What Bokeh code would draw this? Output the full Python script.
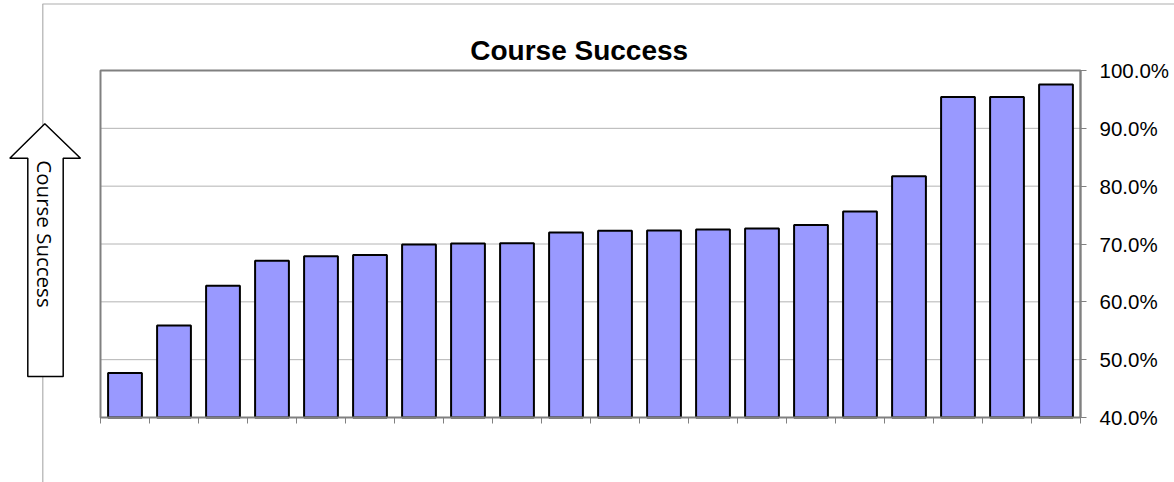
import math
from bokeh.plotting import figure
from bokeh.models import (ColumnDataSource, Range1d, FixedTicker, NumeralTickFormatter,
                          Label, PolyAnnotation, Arrow, BoxAnnotation, CustomJSTickFormatter)
from bokeh.embed import file_html
from bokeh.resources import INLINE

# ---- data ----
values = [0.477, 0.559, 0.628, 0.671, 0.679, 0.681, 0.699, 0.701, 0.7015, 0.720,
          0.723, 0.7235, 0.725, 0.727, 0.733, 0.756, 0.817, 0.954, 0.954, 0.976]
y_ticks = [0.4, 0.5, 0.6, 0.7, 0.8, 0.9, 1.0]
y_min, y_max = 0.4, 1.0
title_text = "Course Success"
axis_text = "Course Success"

n = len(values)
W, H = 1174, 482
# plot area position on the page (px)
FL, FR, FT, FB = 100, 1080, 70, 417

# the frame spans the whole canvas; the plot area is a sub-region of it
px_per_x = (FR - FL) / n
px_per_y = (FB - FT) / (y_max - y_min)
x_start = -FL / px_per_x
x_end = n + (W - FR) / px_per_x
y_start = y_min - (H - FB) / px_per_y
y_end = y_max + FT / px_per_y


def dx(px):
    return (px - FL) / px_per_x


def dy(py):
    return y_min + (FB - py) / px_per_y


src = ColumnDataSource(dict(x=[i + 0.5 for i in range(n)], top=values))

p = figure(width=W, height=H, x_range=Range1d(x_start, x_end), y_range=Range1d(y_start, y_end),
           y_axis_location="right", output_backend="svg", toolbar_location=None,
           min_border_left=0, min_border_right=0, min_border_top=0, min_border_bottom=0)
p.title.visible = False
p.background_fill_color = "white"
p.border_fill_color = "white"
p.outline_line_color = None

p.xgrid.visible = False
p.ygrid.visible = False

xa = p.xaxis[0]
xa.fixed_location = y_min
xa.ticker = FixedTicker(ticks=list(range(n + 1)))
xa.formatter = CustomJSTickFormatter(code="return ''")
xa.bounds = (0, n)
xa.major_tick_out = 6
xa.major_tick_in = 0
xa.minor_tick_line_color = None
xa.axis_line_color = "#808080"
xa.major_tick_line_color = "#808080"

ya = p.yaxis[0]
ya.fixed_location = n
ya.ticker = FixedTicker(ticks=y_ticks)
ya.formatter = NumeralTickFormatter(format="0.0%")
ya.bounds = (y_min, y_max)
ya.major_tick_out = 6
ya.major_tick_in = 0
ya.minor_tick_line_color = None
ya.axis_line_color = "#404040"
ya.axis_line_width = 1.5
ya.major_tick_line_color = "#808080"
ya.major_label_standoff = 13
ya.major_label_text_font = "Liberation Sans"
ya.major_label_text_font_size = "20.5px"
ya.major_label_text_color = "black"

# horizontal gridlines across the plot area
p.segment(x0=[0] * len(y_ticks), x1=[n] * len(y_ticks), y0=y_ticks, y1=y_ticks,
          line_color="#b4b4b4", line_width=1, level="underlay")

p.vbar(x="x", top="top", bottom=y_min, width=0.69, source=src,
       fill_color="#9999FF", line_color="black", line_width=2)

# plot area border
p.add_layout(BoxAnnotation(left=0, right=n, bottom=y_min, top=y_max,
                           fill_color=None, line_color="#808080", line_alpha=1.0,
                           line_width=2))

# outer chart border (top and left edges)
p.add_layout(Arrow(end=None, x_start=dx(42), y_start=dy(3.5), x_end=dx(W), y_end=dy(3.5),
                   line_color="#c8c8c8", line_width=1.5))
p.add_layout(Arrow(end=None, x_start=dx(42.3), y_start=dy(3.5), x_end=dx(42.3), y_end=dy(H),
                   line_color="#b0b0b0", line_width=1.2))

# block arrow with axis label
ax_px = [44.3, 80, 62.7, 62.7, 27.3, 27.3, 9.3]
ay_px = [123.3, 157.7, 157.7, 376, 376, 157.7, 157.7]
p.add_layout(PolyAnnotation(xs=[dx(v) for v in ax_px], ys=[dy(v) for v in ay_px],
                            fill_color="white", fill_alpha=1.0,
                            line_color="black", line_alpha=1.0, line_width=1.5))
p.add_layout(Label(x=dx(44.5), y=dy(233.5), text=axis_text, angle=-math.pi / 2,
                   text_align="center", text_baseline="middle",
                   text_font="Open Sans", text_font_size="20.5px", text_color="black"))

# chart title
p.add_layout(Label(x=dx(578.7), y=dy(50), text=title_text,
                   text_align="center", text_baseline="alphabetic",
                   text_font="Liberation Sans", text_font_style="bold",
                   text_font_size="28px", text_color="black"))

open("out.html", "w").write(file_html(p, INLINE))
